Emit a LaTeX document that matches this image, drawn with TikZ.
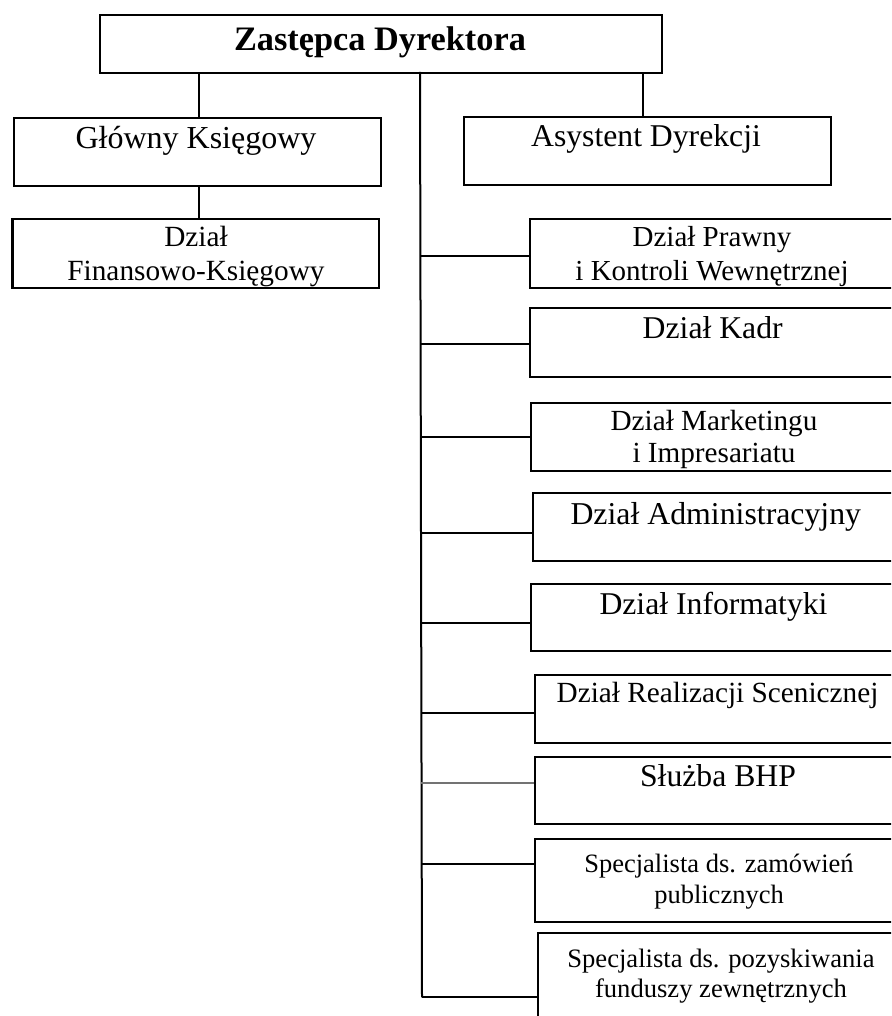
\documentclass[tikz,border=0pt]{standalone}
\usepackage{fontspec}
\setmainfont{Liberation Serif}
\begin{document}
\begin{tikzpicture}[x=1pt,y=-1pt,
  box/.style={draw=black, line width=2.1pt, inner sep=0pt, anchor=north west, fill=white},
  conn/.style={line width=2pt, black},
  lbl/.style={anchor=base, inner sep=0pt, align=center}]
\useasboundingbox (0,0) rectangle (891,1016);
\clip (0,0) rectangle (891,1016);
% boxes
\node[box, minimum width=562pt, minimum height=58pt] (top) at (99,14) {};
\node[box, minimum width=367.5pt, minimum height=68pt] (glowny) at (12.5,117) {};
\node[box, minimum width=367pt, minimum height=68pt] (asyst) at (462.5,116) {};
\node[box, minimum width=366.6pt, minimum height=69pt] (fin) at (11.4,218) {};
\node[box, minimum width=366.6pt, minimum height=68.4pt] (prawny) at (528.7,218.3) {};
\node[box, minimum width=368pt, minimum height=68.4pt] (kadr) at (528.7,307.3) {};
\node[box, minimum width=367.4pt, minimum height=68.3pt] (market) at (530.3,401.7) {};
\node[box, minimum width=367.6pt, minimum height=68pt] (admin) at (532,492.3) {};
\node[box, minimum width=366.4pt, minimum height=67.6pt] (info) at (530.3,582.7) {};
\node[box, minimum width=367pt, minimum height=68.3pt] (real) at (534,674) {};
\node[box, minimum width=368pt, minimum height=67.3pt] (bhp) at (534,756) {};
\node[box, minimum width=370pt, minimum height=83.3pt] (zam) at (534,837.7) {};
\node[box, minimum width=368.3pt, minimum height=100pt] (poz) at (536.7,931.7) {};
% texts
\node[lbl, font=\fontsize{34.3}{39}\selectfont\bfseries] (topT) at (380,50.5) {Zastępca Dyrektora};
\node[lbl, font=\fontsize{32}{36.8}\selectfont] (glownyT) at (196,148.3) {Główny Księgowy};
\node[lbl, font=\fontsize{31.7}{36.5}\selectfont] (asystT) at (646,146.7) {Asystent Dyrekcji};
\node[lbl, font=\fontsize{29.3}{33.3}\selectfont] (finT) at (196,280) {Dział\\Finansowo-Księgowy};
\node[lbl, font=\fontsize{29}{33.3}\selectfont] (prawnyT) at (712,280) {Dział Prawny\\i Kontroli Wewnętrznej};
\node[lbl, font=\fontsize{31.7}{36.5}\selectfont] (kadrT) at (712.7,338.3) {Dział Kadr};
\node[lbl, font=\fontsize{29.2}{32.7}\selectfont] (marketT) at (714,462.7) {Dział Marketingu\\i Impresariatu};
\node[lbl, font=\fontsize{31.8}{36.5}\selectfont] (adminT) at (715.8,524) {Dział Administracyjny};
\node[lbl, font=\fontsize{31.7}{36.5}\selectfont] (infoT) at (713.5,614) {Dział Informatyki};
\node[lbl, font=\fontsize{29.25}{33.5}\selectfont] (realT) at (717.5,702.3) {Dział Realizacji Scenicznej};
\node[lbl, font=\fontsize{31.7}{36.5}\selectfont] (bhpT) at (718,786.7) {Służba BHP};
\node[lbl, font=\fontsize{26.5}{30.6}\selectfont] (zamT) at (719,903.3) {Specjalista ds. zamówień\\publicznych};
\node[lbl, font=\fontsize{26.6}{30}\selectfont] (pozT) at (721,997.7) {Specjalista ds. pozyskiwania\\funduszy zewnętrznych};
% connectors
\coordinate (tt) at (420,72);
\coordinate (tb) at (422,997.3);
\draw[conn] (top.south -| glowny.north) ++(1.5,0) coordinate (g0) -- (g0 |- glowny.north);
\draw[conn] (top.south -| asyst.north) ++(-4,0) coordinate (a0) -- (a0 |- asyst.north);
\draw[conn] (glowny.south) ++(2,0) coordinate (f0) -- (f0 |- fin.north);
\draw[conn] (tt) -- (tb);
\coordinate (b1) at (420,256);
\coordinate (b2) at (420,343.7);
\coordinate (b3) at (420,436.7);
\coordinate (b4) at (420.5,532.7);
\coordinate (b5) at (420.5,622.7);
\coordinate (b6) at (421,713.3);
\coordinate (b7) at (421,782.7);
\coordinate (b8) at (421.5,864.3);
\draw[conn] (b1) -- (b1 -| prawny.west);
\draw[conn] (b2) -- (b2 -| kadr.west);
\draw[conn] (b3) -- (b3 -| market.west);
\draw[conn] (b4) -- (b4 -| admin.west);
\draw[conn] (b5) -- (b5 -| info.west);
\draw[conn] (b6) -- (b6 -| real.west);
\draw[conn, draw=black!55] (b7) -- (b7 -| bhp.west);
\draw[conn] (b8) -- (b8 -| zam.west);
\draw[conn] (tb) -- (tb -| poz.west);
\end{tikzpicture}
\end{document}
